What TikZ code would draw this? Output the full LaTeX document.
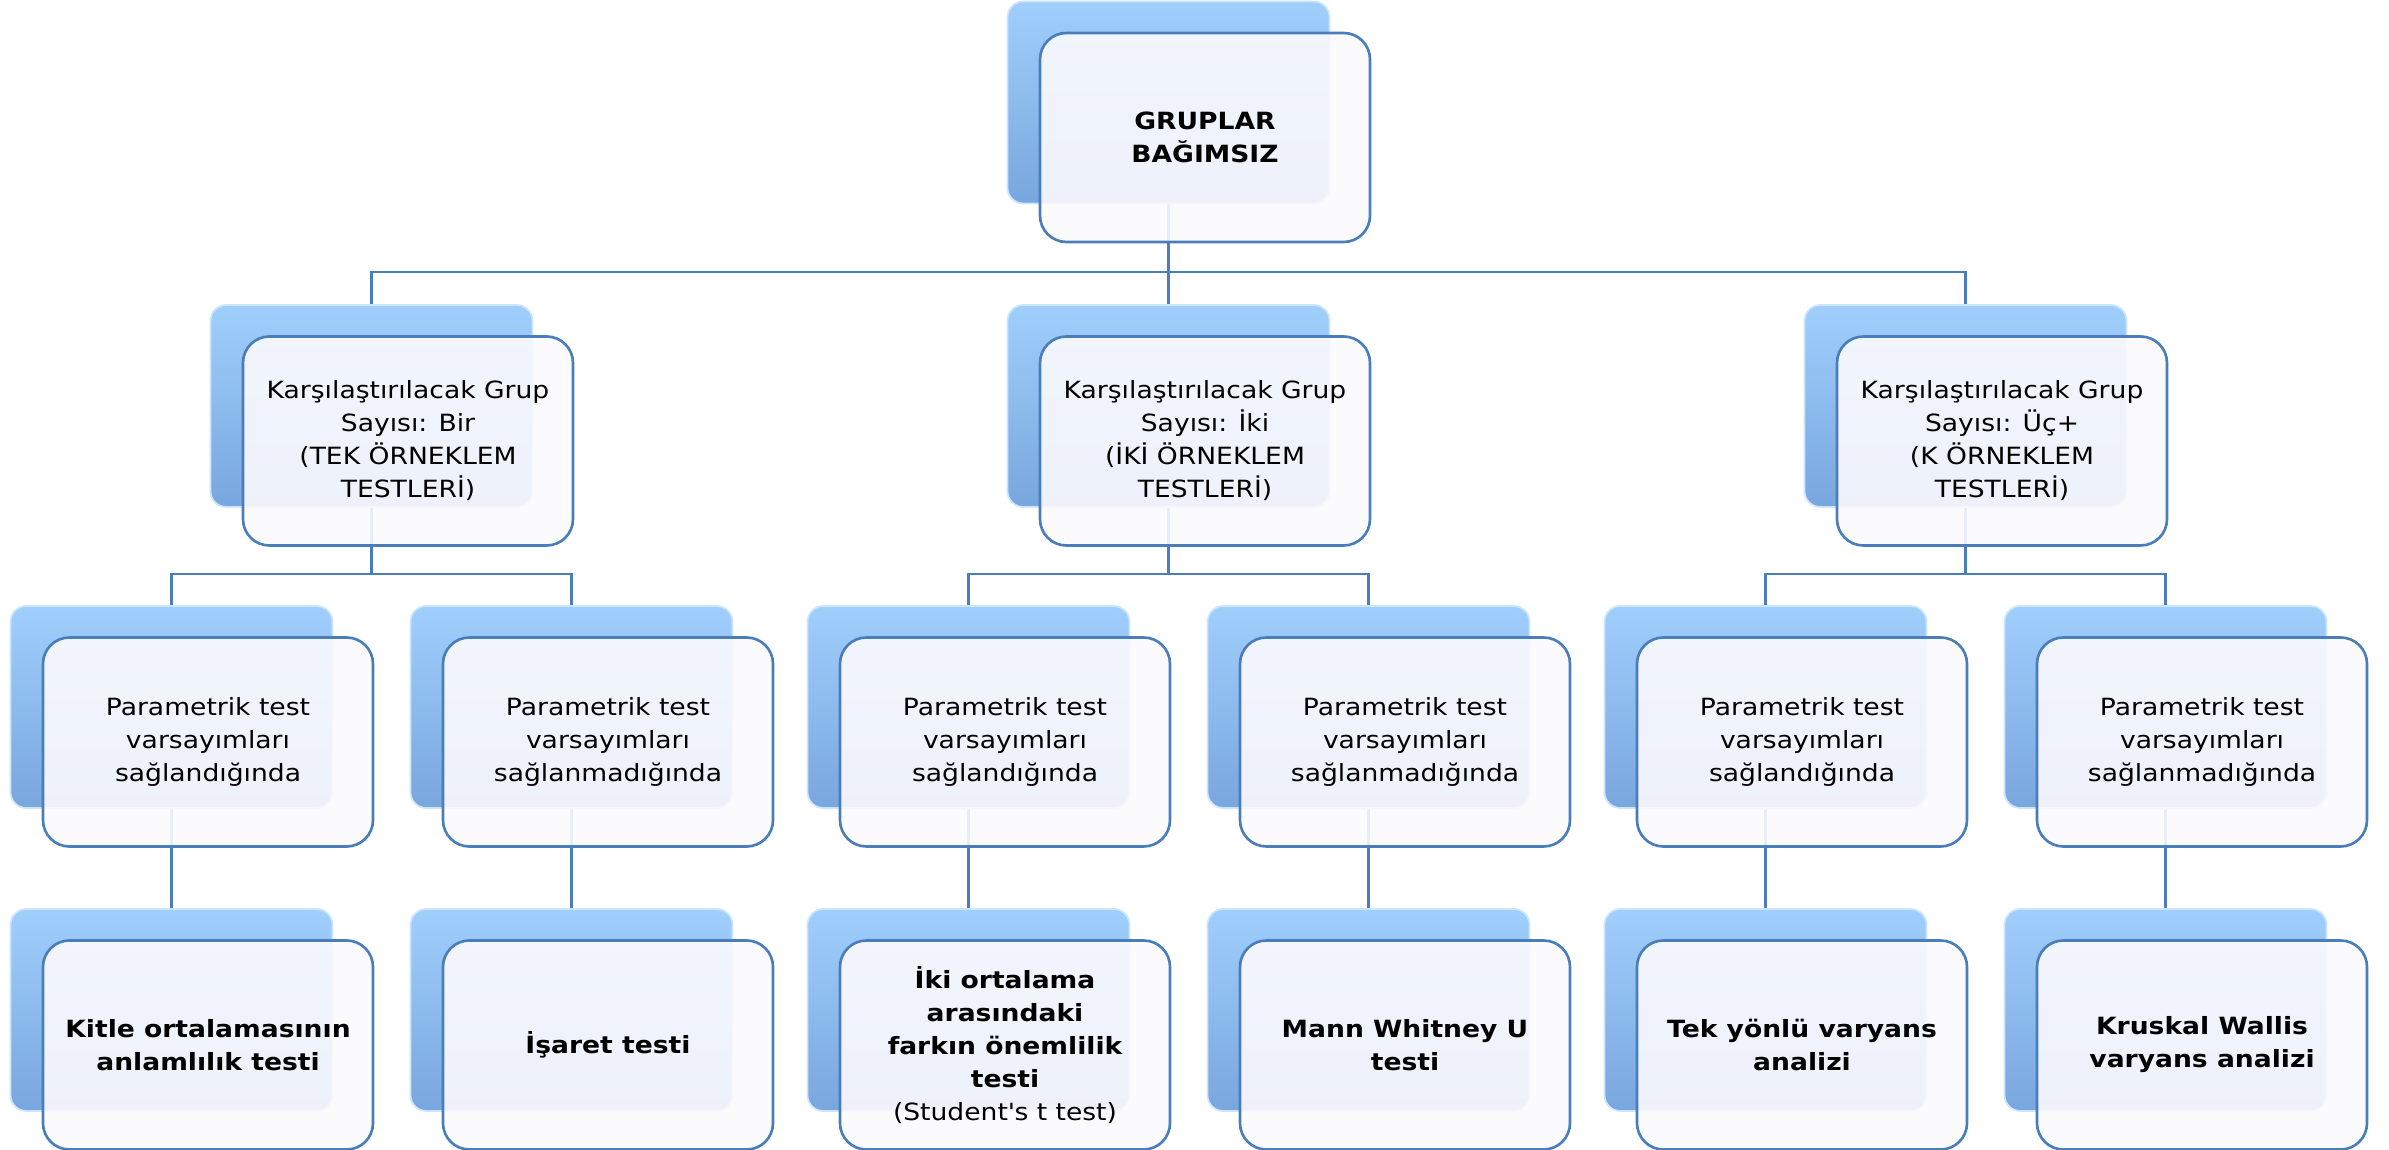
\documentclass[tikz,border=0pt]{standalone}
\usepackage{fontspec}
\setmainfont{DejaVu Sans}[FakeStretch=1.12]
\usetikzlibrary{calc}
\newcommand{\boxfont}{\fontsize{13.5}{18.8}\selectfont}
\definecolor{backtop}{RGB}{160,207,252}
\definecolor{backmid}{RGB}{132,180,234}
\definecolor{backbot}{RGB}{120,166,222}
\definecolor{frontfill}{RGB}{251,250,253}
\definecolor{linkblue}{RGB}{74,126,187}
\tikzset{
  backbox/.style={draw=backtop!55!white, line width=1pt,
                  top color=backtop, middle color=backmid,
                  bottom color=backbot,
                  rounded corners=9pt, minimum width=6.44cm,
                  minimum height=4.04cm, inner sep=0pt},
  frontbox/.style={draw=linkblue, line width=1.5pt,
                   fill=frontfill, fill opacity=0.9, text opacity=1,
                   rounded corners=15pt, minimum width=6.60cm,
                   minimum height=4.18cm, inner sep=4pt,
                   align=center, font=\boxfont},
  leafbox/.style={frontbox, font=\boxfont\bfseries},
  link/.style={draw=linkblue, line width=1.6pt},
}

\begin{document}
\begin{tikzpicture}[x=1cm,y=1cm]
  \path[use as bounding box] (0,0) rectangle (47.78,22.98);

  % back plates
  \node[backbox] (grp0) at (23.37,20.93) {};
  \node[backbox] (bir0) at (7.43,14.86) {};
  \node[backbox] (iki0) at (23.37,14.86) {};
  \node[backbox] (uc0) at (39.31,14.86) {};
  \node[backbox] (birP0) at (3.43,8.84) {};
  \node[backbox] (birN0) at (11.43,8.84) {};
  \node[backbox] (ikiP0) at (19.37,8.84) {};
  \node[backbox] (ikiN0) at (27.37,8.84) {};
  \node[backbox] (ucP0) at (35.31,8.84) {};
  \node[backbox] (ucN0) at (43.31,8.84) {};
  \node[backbox] (kitle0) at (3.43,2.78) {};
  \node[backbox] (isaret0) at (11.43,2.78) {};
  \node[backbox] (ttest0) at (19.37,2.78) {};
  \node[backbox] (mann0) at (27.37,2.78) {};
  \node[backbox] (anova0) at (35.31,2.78) {};
  \node[backbox] (kruskal0) at (43.31,2.78) {};

  % connectors
  \coordinate (bar1) at (0,17.54);
  \coordinate (bar2) at (0,11.50);
  \draw[link] (grp0.south) -- (grp0.south |- bar1) -| (bir0.north);
  \draw[link] (grp0.south) -- (iki0.north);
  \draw[link] (grp0.south |- bar1) -| (uc0.north);
  \draw[link] (bir0.south) -- (bir0.south |- bar2) -| (birP0.north);
  \draw[link] (bir0.south |- bar2) -| (birN0.north);
  \draw[link] (iki0.south) -- (iki0.south |- bar2) -| (ikiP0.north);
  \draw[link] (iki0.south |- bar2) -| (ikiN0.north);
  \draw[link] (uc0.south) -- (uc0.south |- bar2) -| (ucP0.north);
  \draw[link] (uc0.south |- bar2) -| (ucN0.north);
  \draw[link] (birP0.south) -- (kitle0.north);
  \draw[link] (birN0.south) -- (isaret0.north);
  \draw[link] (ikiP0.south) -- (ttest0.north);
  \draw[link] (ikiN0.south) -- (mann0.north);
  \draw[link] (ucP0.south) -- (anova0.north);
  \draw[link] (ucN0.south) -- (kruskal0.north);

  % front cards
  \node[leafbox] (grp) at (24.10,20.23) {GRUPLAR\\BAĞIMSIZ};

  \node[frontbox] (bir) at (8.16,14.16)
    {Karşılaştırılacak Grup\\Sayısı: Bir\\(TEK ÖRNEKLEM\\TESTLERİ)};
  \node[frontbox] (iki) at (24.10,14.16)
    {Karşılaştırılacak Grup\\Sayısı: İki\\(İKİ ÖRNEKLEM\\TESTLERİ)};
  \node[frontbox] (uc) at (40.04,14.16)
    {Karşılaştırılacak Grup\\Sayısı: Üç+\\(K ÖRNEKLEM\\TESTLERİ)};

  \node[frontbox] (birP) at (4.16,8.14)
    {Parametrik test\\varsayımları\\sağlandığında};
  \node[frontbox] (birN) at (12.16,8.14)
    {Parametrik test\\varsayımları\\sağlanmadığında};
  \node[frontbox] (ikiP) at (20.10,8.14)
    {Parametrik test\\varsayımları\\sağlandığında};
  \node[frontbox] (ikiN) at (28.10,8.14)
    {Parametrik test\\varsayımları\\sağlanmadığında};
  \node[frontbox] (ucP) at (36.04,8.14)
    {Parametrik test\\varsayımları\\sağlandığında};
  \node[frontbox] (ucN) at (44.04,8.14)
    {Parametrik test\\varsayımları\\sağlanmadığında};

  \node[leafbox] (kitle) at (4.16,2.08)
    {Kitle ortalamasının\\anlamlılık testi};
  \node[leafbox] (isaret) at (12.16,2.08) {İşaret testi};
  \node[leafbox] (ttest) at (20.10,2.08)
    {İki ortalama\\arasındaki\\farkın önemlilik\\testi\\
     {\mdseries (Student\textquotesingle s t test)}};
  \node[leafbox] (mann) at (28.10,2.08) {Mann Whitney U\\testi};
  \node[leafbox] (anova) at (36.04,2.08) {Tek yönlü varyans\\analizi};
  \node[leafbox] (kruskal) at (44.04,2.08) {Kruskal Wallis\\varyans analizi};
\end{tikzpicture}
\end{document}
